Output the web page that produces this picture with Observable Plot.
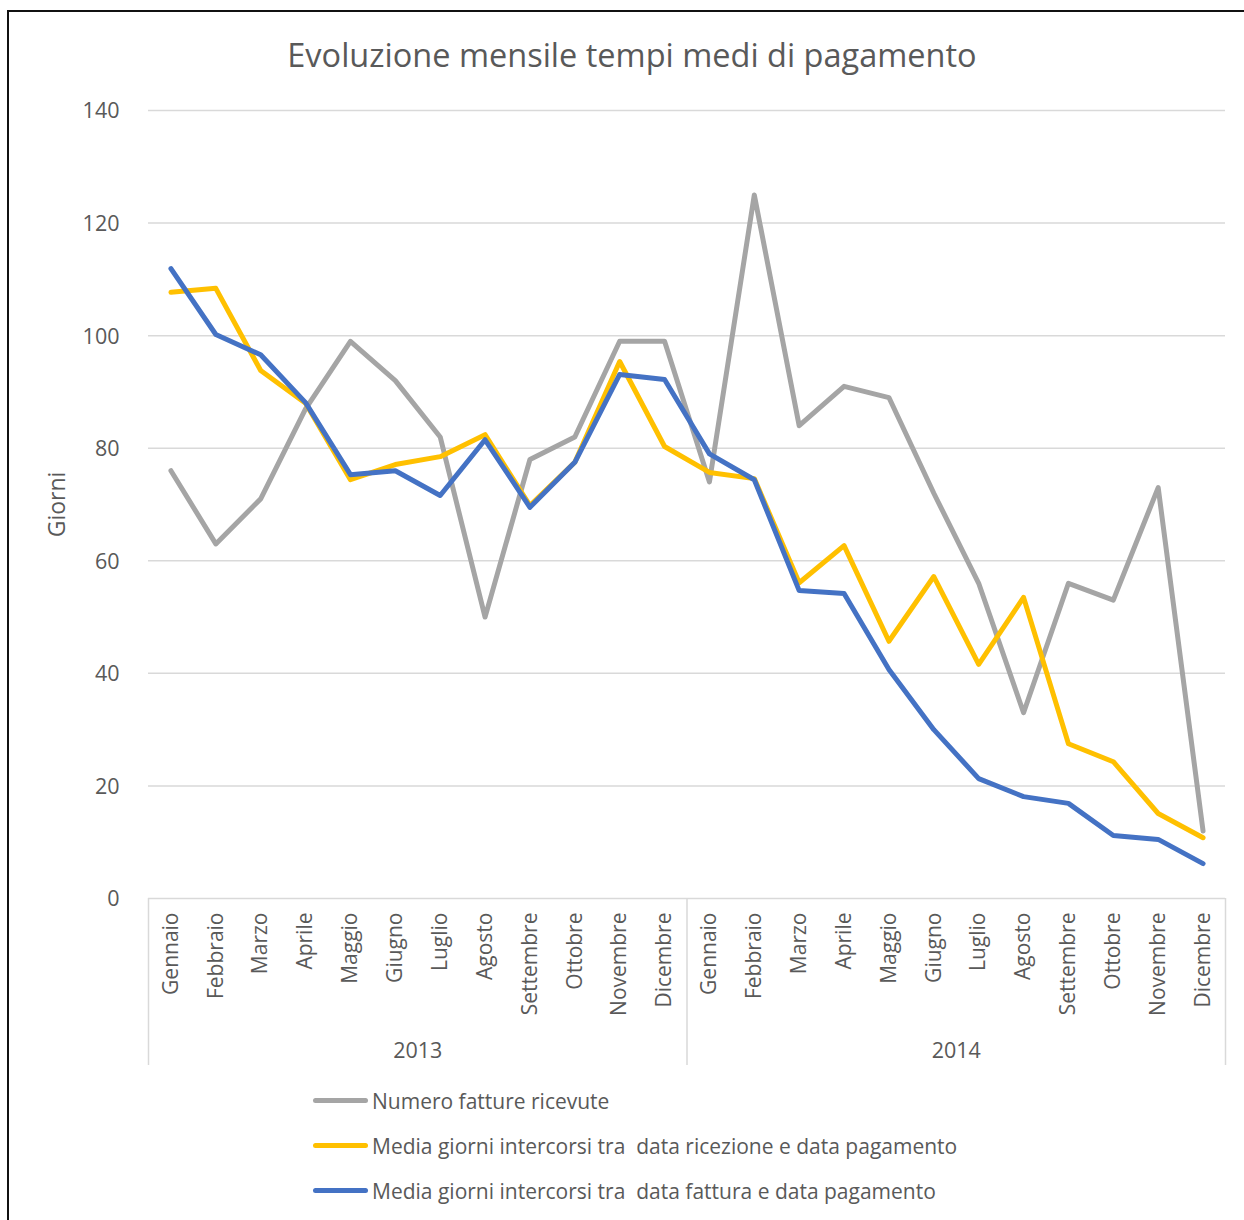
<!DOCTYPE html>
<html>
<head>
<meta charset="utf-8">
<script src="https://cdn.jsdelivr.net/npm/d3@7"></script>
<script src="https://cdn.jsdelivr.net/npm/@observablehq/plot@0.6"></script>
<style>
  html, body { margin: 0; padding: 0; background: #fff; }
  #wrap { position: relative; width: 1244px; height: 1220px; overflow: hidden; font-family: "Open Sans", sans-serif; color: #595959; }
  #frame { position: absolute; left: 7px; top: 10px; width: 1300px; height: 1300px; border-left: 2px solid #111; border-top: 2px solid #111; box-sizing: border-box; }
  #title { position: absolute; left: 0; top: 33px; width: 1264px; text-align: center; font-size: 32.5px; line-height: 44px; color: #595959; }
  #chart { position: absolute; left: 0; top: 0; }
  #legend { position: absolute; left: 313px; top: 1078px; }
  .item { display: flex; align-items: center; height: 45px; font-size: 21px; color: #595959; white-space: pre; }
  .sw { width: 55px; height: 5px; border-radius: 3px; margin-right: 4px; }
</style>
</head>
<body>
<div id="wrap">
  <div id="frame"></div>
  <div id="chart"></div>
  <div id="title">Evoluzione mensile tempi medi di pagamento</div>
  <div id="legend"></div>
</div>
<script>
const months = ["Gennaio","Febbraio","Marzo","Aprile","Maggio","Giugno","Luglio","Agosto","Settembre","Ottobre","Novembre","Dicembre"];
const years = ["2013","2014"];
const seriesNames = [
  "Numero fatture ricevute",
  "Media giorni intercorsi tra  data ricezione e data pagamento",
  "Media giorni intercorsi tra  data fattura e data pagamento"
];
const seriesColors = ["#A5A5A5", "#FFC000", "#4472C4"];
const numeroFatture = [76,63,71,87,99,92,82,50,78,82,99,99, 74,125,84,91,89,72,56,33,56,53,73,12];
const mediaRicezione = [107.7,108.4,93.8,88,74.4,77.1,78.5,82.4,69.8,77.5,95.4,80.3, 75.7,74.6,56.1,62.7,45.7,57.2,41.6,53.5,27.5,24.3,15.1,10.8];
const mediaFattura = [111.9,100.2,96.6,88.1,75.3,76,71.6,81.5,69.5,77.5,93.1,92.2, 79,74.4,54.7,54.2,40.7,30,21.3,18.1,16.9,11.2,10.5,6.2];
const yTicks = [0,20,40,60,80,100,120,140];

const allSeries = [numeroFatture, mediaRicezione, mediaFattura];
const rows = [];
allSeries.forEach((vals, s) => vals.forEach((v, i) => rows.push({pos: i + 0.5, value: v, series: seriesNames[s]})));
const n = numeroFatture.length;
const monthPos = d3.range(n).map(i => i + 0.5);
const yearPos = years.map((y, k) => k * 12 + 6);
const yearEdges = d3.range(years.length + 1).map(k => k * 12);

const fontFamily = "'Open Sans', sans-serif";
const chart = Plot.plot({
  width: 1244,
  height: 1080,
  marginTop: 110,
  marginBottom: 182,
  marginLeft: 148,
  marginRight: 19,
  style: {fontFamily, color: "#595959", background: "transparent", overflow: "visible"},
  x: {type: "linear", domain: [0, n]},
  y: {domain: [0, 140]},
  color: {domain: seriesNames, range: seriesColors},
  marks: [
    Plot.gridY(yTicks, {stroke: "#D9D9D9", strokeOpacity: 1, strokeWidth: 1.5}),
    Plot.axisY(yTicks, {tickSize: 0, tickPadding: 29, fontSize: 21.5, fill: "#595959", dy: 1,
      label: "Giorni", labelAnchor: "center", labelArrow: "none", labelOffset: 100}),
    Plot.axisX(yearEdges, {tickSize: 167, stroke: "#D9D9D9", strokeWidth: 1.5, tickFormat: () => "", label: null}),
    Plot.axisX(monthPos, {tickSize: 0, tickPadding: 14, tickRotate: -90, fontSize: 21, fill: "#595959",
      tickFormat: d => months[Math.round(d - 0.5) % 12], label: null}),
    Plot.axisX(yearPos, {tickSize: 0, tickPadding: 144, fontSize: 21.5, fill: "#595959",
      tickFormat: d => years[Math.floor(d / 12)], label: null}),
    Plot.line(rows, {x: "pos", y: "value", z: "series", stroke: "series",
      strokeWidth: 5, strokeLinejoin: "round", strokeLinecap: "round"})
  ]
});
chart.querySelectorAll("g[aria-label='y-axis label']").forEach(el => el.setAttribute("font-size", 23));
document.getElementById("chart").appendChild(chart);

const legend = document.getElementById("legend");
seriesNames.forEach((name, s) => {
  const item = document.createElement("div");
  item.className = "item";
  const sw = document.createElement("div");
  sw.className = "sw";
  sw.style.background = seriesColors[s];
  const tx = document.createElement("span");
  tx.textContent = name;
  item.appendChild(sw);
  item.appendChild(tx);
  legend.appendChild(item);
});
</script>
</body>
</html>
